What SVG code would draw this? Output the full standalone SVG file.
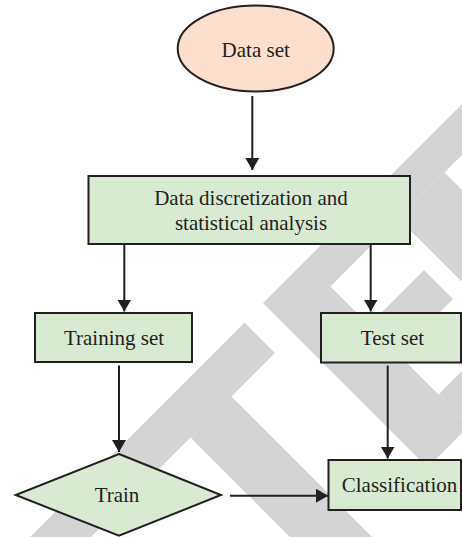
<svg xmlns="http://www.w3.org/2000/svg" width="462" height="537" viewBox="0 0 462 537">
<defs>
<marker id="arr" markerUnits="userSpaceOnUse" markerWidth="14" markerHeight="14" refX="12" refY="7" orient="auto">
<path d="M0,0 L12,7 L0,14 z" fill="#231f20"/>
</marker>
<style>
.node{fill:#d9ead3;stroke:#231f20;stroke-width:2}
.oval{fill:#fcdecd;stroke:#231f20;stroke-width:2}
.lbl{font-family:"Liberation Serif","Times New Roman",serif;font-size:21px;fill:#231f20;text-anchor:middle}
.edge{stroke:#231f20;stroke-width:2;fill:none;marker-end:url(#arr)}
</style>
</defs>
<rect width="462" height="537" fill="#ffffff"/>
<g id="watermark" fill="#d4d4d4" transform="matrix(0.5,-0.5,0.5,0.5,0,0)">
<rect x="-700" y="567" width="622" height="61"/>
<rect x="-247" y="628" width="82" height="400"/>
<rect x="-40" y="566" width="84" height="329"/>
<rect x="44" y="566" width="556" height="51"/>
<rect x="44" y="694" width="110" height="58"/>
<rect x="44" y="833" width="216" height="62"/>
<rect x="180" y="617" width="92" height="278"/>
</g>
<g id="connectors">
<line class="edge" x1="252.3" y1="96" x2="252.3" y2="170"/>
<line class="edge" x1="124.3" y1="244" x2="124.3" y2="311.5"/>
<line class="edge" x1="370.7" y1="244" x2="370.7" y2="311.5"/>
<line class="edge" x1="119" y1="365.5" x2="119" y2="452"/>
<line class="edge" x1="387.7" y1="365.5" x2="387.7" y2="458.5"/>
<line class="edge" x1="230" y1="495.7" x2="328" y2="495.7"/>
</g>
<g id="dataset">
<ellipse class="oval" cx="255.7" cy="48.5" rx="78" ry="43"/>
<text class="lbl" x="255.7" y="57">Data set</text>
</g>
<g id="discretization">
<rect class="node" x="88.5" y="176" width="321.5" height="68"/>
<text class="lbl" x="251" y="205">Data discretization and</text>
<text class="lbl" x="251" y="230">statistical analysis</text>
</g>
<g id="trainingset">
<rect class="node" x="35" y="313" width="157" height="49"/>
<text class="lbl" x="114" y="345">Training set</text>
</g>
<g id="testset">
<rect class="node" x="321" y="313" width="140" height="49.5"/>
<text class="lbl" x="392.5" y="345">Test set</text>
</g>
<g id="train">
<polygon class="node" points="119,454 221,495 119,535.7 15.7,495"/>
<text class="lbl" x="117" y="502">Train</text>
</g>
<g id="classification">
<rect class="node" x="328.5" y="460" width="132.5" height="50"/>
<text class="lbl" x="399.5" y="492">Classification</text>
</g>
</svg>
